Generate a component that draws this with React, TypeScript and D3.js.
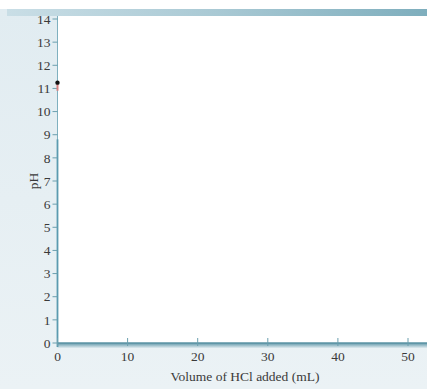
import React from "react";
import * as d3 from "d3";

const xTicks = [0, 10, 20, 30, 40, 50];
const yTicks = [0, 1, 2, 3, 4, 5, 6, 7, 8, 9, 10, 11, 12, 13, 14];
const curveVolumes = [0, 0];
const curvePH = [11.25, 10.9];
const xLabel = "Volume of HCl added (mL)";
const yLabel = "pH";

export default function App() {
  const W = 427, H = 389;
  const x = d3.scaleLinear().domain([0, 50]).range([57.5, 408]);
  const y = d3.scaleLinear().domain([0, 14]).range([343, 19]);
  const font = "'Liberation Serif', 'Times New Roman', serif";
  const pts = curveVolumes.map((v, i) => [x(v), y(curvePH[i])] as [number, number]);
  const line = d3.line();
  return (
    <svg width={W} height={H} style={{ position: "absolute", left: 0, top: 0 }}>
      <defs>
        <linearGradient id="bg" x1="0" y1="0" x2="0" y2="1">
          <stop offset="0" stopColor="#e1ecf1" />
          <stop offset="1" stopColor="#ebf2f5" />
        </linearGradient>
        <linearGradient id="bar" x1="0" y1="0" x2="1" y2="0">
          <stop offset="0" stopColor="#c9dee6" />
          <stop offset="0.5" stopColor="#a9c9d4" />
          <stop offset="1" stopColor="#7eaebd" />
        </linearGradient>
        <linearGradient id="xax" x1="0" y1="0" x2="0" y2="1">
          <stop offset="0" stopColor="#5f97a8" />
          <stop offset="1" stopColor="#dfeaef" />
        </linearGradient>
      </defs>
      <rect x={0} y={0} width={W} height={H} fill="#ffffff" />
      <rect x={0} y={9} width={W} height={H - 9} fill="url(#bg)" />
      <rect x={7} y={9} width={W - 7} height={7} fill="url(#bar)" />
      <rect x={x(0)} y={16} width={W - x(0)} height={y(0) - 16} fill="#ffffff" />
      <rect x={x(0)} y={y(0)} width={W - x(0)} height={5} fill="url(#xax)" />
      <line x1={x(0)} x2={W} y1={y(0)} y2={y(0)} stroke="#5b93a5" strokeWidth={1.5} />
      <line x1={x(0)} x2={x(0)} y1={16} y2={y(0) + 4} stroke="#7fb0bf" strokeWidth={1} />
      <line x1={x(0)} x2={x(0)} y1={y(8.8)} y2={y(0) + 4} stroke="#5b9bb0" strokeWidth={1.8} />
      {yTicks.map((t) => (
        <g key={"y" + t}>
          <line x1={x(0) - 5} x2={x(0)} y1={y(t)} y2={y(t)} stroke="#6a9fae" strokeWidth={1} />
          <text x={x(0) - 7} y={y(t)} dy="0.35em" textAnchor="end" fontFamily={font} fontSize={13.5} fill="#3a3a3a">
            {t}
          </text>
        </g>
      ))}
      {xTicks.map((t) => (
        <g key={"x" + t}>
          <line x1={x(t)} x2={x(t)} y1={y(0) - 5} y2={y(0) + 3} stroke="#6a9fae" strokeWidth={1} />
          <text x={x(t)} y={y(0) + 18} textAnchor="middle" fontFamily={font} fontSize={13.5} fill="#3a3a3a">
            {t}
          </text>
        </g>
      ))}
      <path d={line(pts) || ""} stroke="#d98080" strokeWidth={2} fill="none" />
      <circle cx={pts[0][0]} cy={pts[0][1]} r={2.2} fill="#111" />
      <text x={245} y={381} textAnchor="middle" fontFamily={font} fontSize={13.5} fill="#3a3a3a">
        {xLabel}
      </text>
      <text transform={`translate(33, ${y(7)}) rotate(-90)`} textAnchor="middle" dy="0.35em" fontFamily={font} fontSize={13.5} fill="#3a3a3a">
        {yLabel}
      </text>
    </svg>
  );
}
